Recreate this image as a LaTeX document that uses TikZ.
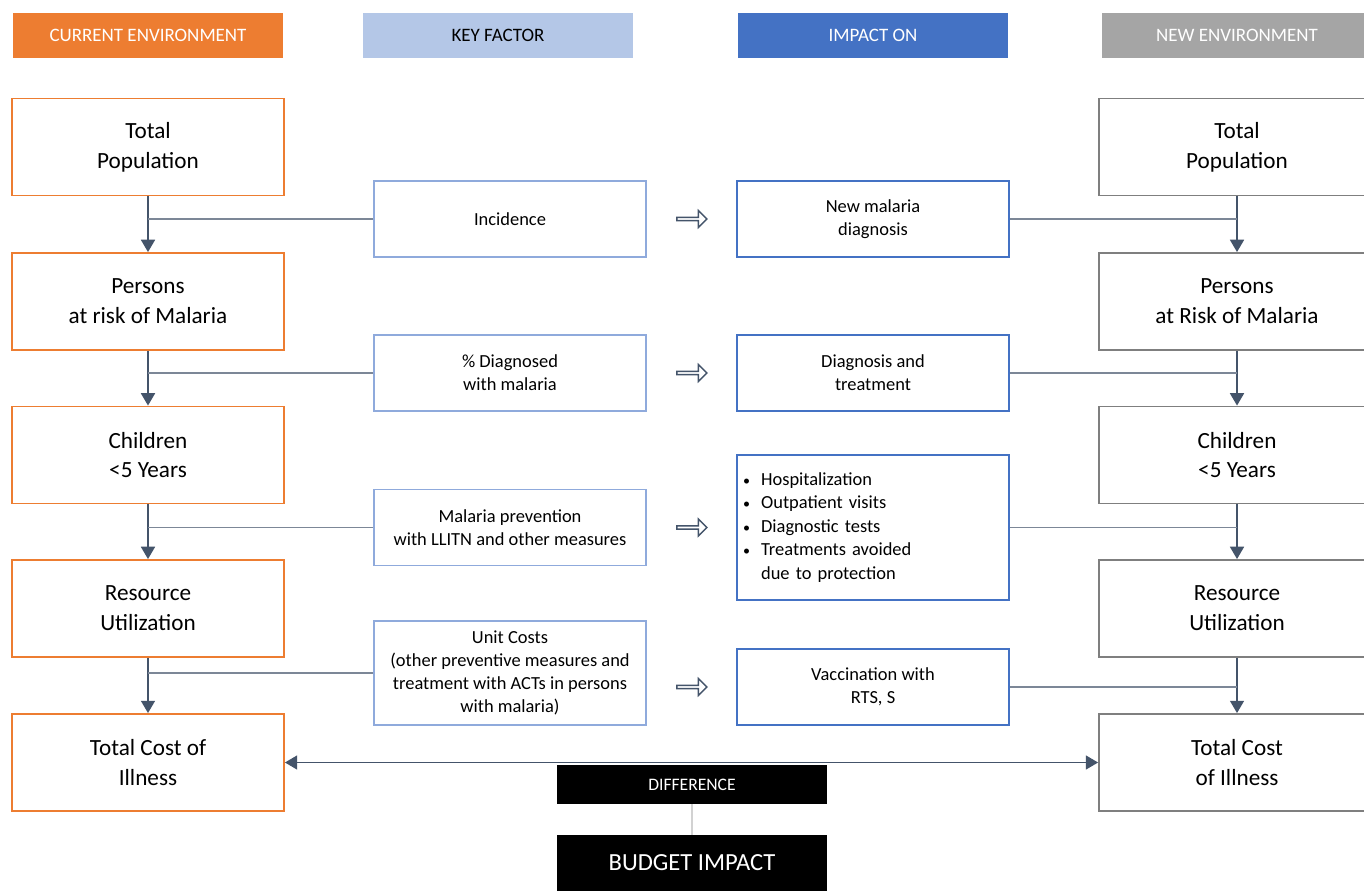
\documentclass[tikz,border=0pt]{standalone}
\usepackage{fontspec}
\setmainfont{Carlito}
\usetikzlibrary{positioning,arrows.meta,shapes.arrows}

\definecolor{curorange}{HTML}{ED7D31}
\definecolor{keyblue}{HTML}{B4C7E7}
\definecolor{keyline}{HTML}{8FAADC}
\definecolor{impblue}{HTML}{4472C4}
\definecolor{newgray}{HTML}{A5A5A5}
\definecolor{newline}{HTML}{7F7F7F}
\definecolor{slate}{HTML}{44546A}

\newcommand{\pip}{{\fontsize{8}{8}\selectfont\textbullet}\hspace{0.6em}}

\tikzset{
  header/.style={minimum width=5.42cm, minimum height=0.9cm, inner sep=0pt,
    font=\fontsize{10.8}{12}\selectfont},
  curbox/.style={draw=curorange, line width=1.1pt, minimum width=5.44cm,
    minimum height=1.94cm, align=center, font=\fontsize{13.2}{17}\selectfont},
  newbox/.style={curbox, draw=newline},
  keybox/.style={draw=keyline, line width=0.9pt, minimum width=5.44cm,
    minimum height=1.52cm, align=center, font=\fontsize{10.5}{13}\selectfont},
  impbox/.style={keybox, draw=impblue},
  flow/.style={draw=slate, line width=0.8pt, -{Triangle[length=7pt,width=8pt]}},
  feed/.style={draw=slate!70, line width=0.7pt},
  hollow/.style={single arrow, draw=slate, line width=0.8pt, minimum height=0.6cm,
    minimum width=0.34cm, single arrow head extend=0.06cm, inner sep=0pt},
  blackbox/.style={fill=black, text=white, minimum width=5.42cm, inner sep=0pt}
}

\begin{document}
\begin{tikzpicture}[x=0.02cm, y=-0.02cm]

  \clip (0,0) rectangle (1364,891);
  \fill[white] (0,0) rectangle (1364,891);

  % column headers
  \node[header, fill=curorange, text=white] (hCur) at (148,35.5) {CURRENT ENVIRONMENT};
  \node[header, fill=keyblue, text=black] (hKey) at (498,35.5) {KEY FACTOR};
  \node[header, fill=impblue, text=white] (hImp) at (873,35.5) {IMPACT ON};
  \node[header, fill=newgray, text=white] (hNew) at (1237,35.5) {NEW ENVIRONMENT};

  % current environment
  \node[curbox] (cTot)  at (148,147)   {Total\\Population};
  \node[curbox] (cRisk) at (148,301.5) {Persons\\at risk of Malaria};
  \node[curbox] (cKids) at (148,455)   {Children\\<5 Years};
  \node[curbox] (cRes)  at (148,608.5) {Resource\\Utilization};
  \node[curbox] (cCost) at (148,762.5) {Total Cost of\\Illness};

  % new environment
  \node[newbox, minimum width=5.52cm] (nTot)  at (1237,147)   {Total\\Population};
  \node[newbox, minimum width=5.52cm] (nRisk) at (1237,301.5) {Persons\\at Risk of Malaria};
  \node[newbox, minimum width=5.52cm] (nKids) at (1237,455)   {Children\\<5 Years};
  \node[newbox, minimum width=5.52cm] (nRes)  at (1237,608.5) {Resource\\Utilization};
  \node[newbox, minimum width=5.52cm] (nCost) at (1237,762.5) {Total Cost\\of Illness};

  % key factors
  \node[keybox] (kInc)  at (510,219) {Incidence};
  \node[keybox] (kDiag) at (510,373) {\% Diagnosed\\with malaria};
  \node[keybox] (kPrev) at (510,527.5) {Malaria prevention\\with LLITN and other measures};
  \node[keybox, minimum height=2.08cm] (kUnit) at (510,673)
    {Unit Costs\\(other preventive measures and\\treatment with ACTs in persons\\with malaria)};

  % impacts
  \node[impbox, minimum height=2.9cm, text width=5.2cm, align=left,
    font=\fontsize{10.5}{13.4}\selectfont] (iList) at (873,527.5)
    {\pip Hospitalization\\
     \pip Outpatient visits\\
     \pip Diagnostic tests\\
     \pip Treatments avoided\\
     \phantom{\pip}due to protection};
  \node[impbox] (iDiag) at (873,219) {New malaria\\diagnosis};
  \node[impbox] (iTreat) at (873,373) {Diagnosis and\\treatment};
  \node[impbox] (iVac) at (873,687) {Vaccination with\\RTS, S};

  % hollow arrows between the two middle columns
  \node[hollow] (a1) at (691,219) {};
  \node[hollow] (a2) at (691,373) {};
  \node[hollow] (a3) at (691,527.5) {};
  \node[hollow] (a4) at (691,687) {};

  % flow down the columns
  \foreach \u/\v in {Tot/Risk, Risk/Kids, Kids/Res, Res/Cost} {
    \draw[flow] (c\u) -- (c\v);
    \draw[flow] (n\u) -- (n\v);
  }

  % feeders into the columns
  \foreach \k/\c in {kInc/cTot, kDiag/cRisk, kPrev/cKids, kUnit/cRes}
    \draw[feed] (\k.west) -- (\k.west -| \c);
  \foreach \i/\n in {iDiag/nTot, iTreat/nRisk, iList/nKids, iVac/nRes}
    \draw[feed] (\i.east) -- (\i.east -| \n);

  % difference and budget impact
  \draw[draw=slate, line width=0.8pt, {Triangle[length=7pt,width=8pt]}-{Triangle[length=7pt,width=8pt]}]
    (cCost.east) -- (nCost.west);
  \node[blackbox, minimum height=0.78cm, font=\fontsize{10}{12}\selectfont] (diff) at (692,784.5) {DIFFERENCE};
  \node[blackbox, minimum height=1.12cm, font=\fontsize{14}{16}\selectfont] (budget) at (692,863) {BUDGET IMPACT};
  \draw[gray!35, line width=0.6pt] (diff) -- (budget);

\end{tikzpicture}
\end{document}
